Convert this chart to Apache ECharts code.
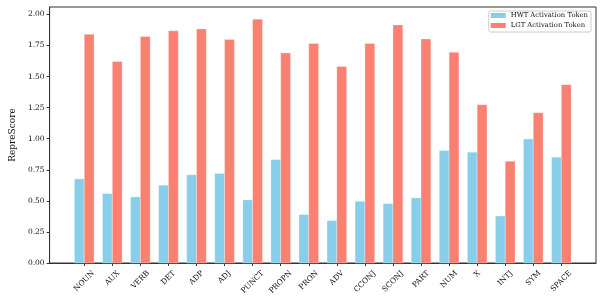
<!DOCTYPE html>
<html>
<head>
<meta charset="utf-8">
<script src="https://cdn.jsdelivr.net/npm/echarts@6/dist/echarts.min.js"></script>
<style>
html,body{margin:0;padding:0;background:#fff;}
#chart{width:603px;height:302px;}
</style>
</head>
<body>
<div id="chart"></div>
<script>
const categories = ['NOUN','AUX','VERB','DET','ADP','ADJ','PUNCT','PROPN','PRON','ADV','CCONJ','SCONJ','PART','NUM','X','INTJ','SYM','SPACE'];
const hwtValues = [0.677,0.559,0.532,0.626,0.710,0.720,0.508,0.833,0.390,0.341,0.497,0.478,0.524,0.906,0.892,0.379,0.997,0.852];
const lgtValues = [1.841,1.621,1.823,1.868,1.884,1.798,1.962,1.690,1.766,1.581,1.766,1.916,1.803,1.696,1.274,0.819,1.210,1.435];
const yTicks = [0, 0.25, 0.5, 0.75, 1.0, 1.25, 1.5, 1.75, 2.0];
const seriesNames = ['HWT Activation Token', 'LGT Activation Token'];

const FONT = '"DejaVu Serif", serif';
const TICK_FS = 7.5;
const n = categories.length;
const BW = 0.35; // bar width in data units
const span = (n - 1) + 2 * BW;
const xMin = -BW - 0.05 * span;
const xMax = (n - 1) + BW + 0.05 * span;
const allVals = hwtValues.concat(lgtValues);
const yMax = Math.max.apply(null, allVals) * 1.05;

// measure label lengths to emulate centered rotated labels
const cv = document.createElement('canvas').getContext('2d');
cv.font = TICK_FS + 'px ' + FONT;
const rich = {};
categories.forEach((c, i) => {
  const L = cv.measureText(c).width;
  rich['s' + i] = { padding: [0.5 * L, 0.5 * L, 0, 0], fontSize: TICK_FS, fontFamily: FONT, color: '#111' };
});

function barRenderer(offset) {
  return function (params, api) {
    const x = api.value(0), y = api.value(1);
    const p0 = api.coord([x + offset - BW / 2, y]);
    const p1 = api.coord([x + offset + BW / 2, 0]);
    return {
      type: 'rect',
      shape: { x: p0[0], y: p0[1], width: p1[0] - p0[0], height: p1[1] - p0[1] },
      style: { fill: api.visual('color'), stroke: 'rgba(255,255,255,0.6)', lineWidth: 0.5 }
    };
  };
}

const chart = echarts.init(document.getElementById('chart'), null, { renderer: 'canvas' });
const xIdx = categories.map((c, i) => i);
chart.setOption({
  animation: false,
  backgroundColor: '#fff',
  grid: { left: 41, right: 7, top: 7, bottom: 39, show: true, borderColor: '#333', borderWidth: 1, backgroundColor: 'transparent' },
  legend: {
    data: seriesNames,
    orient: 'vertical',
    right: 12, top: 11,
    icon: 'rect',
    itemWidth: 15, itemHeight: 5,
    itemGap: 3,
    padding: [1, 3, 3, 2],
    backgroundColor: 'rgba(255,255,255,0.8)',
    borderColor: '#ccc', borderWidth: 1, borderRadius: 2,
    textStyle: { fontFamily: FONT, fontSize: 6.8, color: '#111' }
  },
  xAxis: {
    type: 'value', min: xMin, max: xMax,
    splitLine: { show: false },
    axisLine: { show: true, onZero: false, lineStyle: { color: '#333', width: 1 } },
    axisTick: { show: true, length: 3, customValues: xIdx, lineStyle: { color: '#333' } },
    axisLabel: {
      customValues: xIdx,
      rotate: 45, align: 'center', verticalAlign: 'middle', margin: 9,
      formatter: v => { const i = Math.round(v); return '{s' + i + '|' + categories[i] + '}'; },
      rich: rich,
      fontFamily: FONT, fontSize: TICK_FS, color: '#111'
    }
  },
  yAxis: {
    type: 'value', min: 0, max: yMax,
    name: 'RepreScore', nameLocation: 'middle', nameGap: 26,
    nameTextStyle: { fontFamily: FONT, fontSize: 9, color: '#111' },
    splitLine: { show: false },
    axisLine: { show: true, onZero: false, lineStyle: { color: '#333', width: 1 } },
    axisTick: { show: true, length: 3, customValues: yTicks, lineStyle: { color: '#333' } },
    axisLabel: {
      customValues: yTicks,
      margin: 5,
      formatter: v => v.toFixed(2),
      fontFamily: FONT, fontSize: TICK_FS, color: '#111'
    }
  },
  series: [
    {
      name: seriesNames[0], type: 'custom', renderItem: barRenderer(-BW / 2),
      itemStyle: { color: '#87CEEB' },
      encode: { x: 0, y: 1 },
      data: hwtValues.map((v, i) => [i, v])
    },
    {
      name: seriesNames[1], type: 'custom', renderItem: barRenderer(BW / 2),
      itemStyle: { color: '#FA8072' },
      encode: { x: 0, y: 1 },
      data: lgtValues.map((v, i) => [i, v])
    }
  ]
});
</script>
</body>
</html>
